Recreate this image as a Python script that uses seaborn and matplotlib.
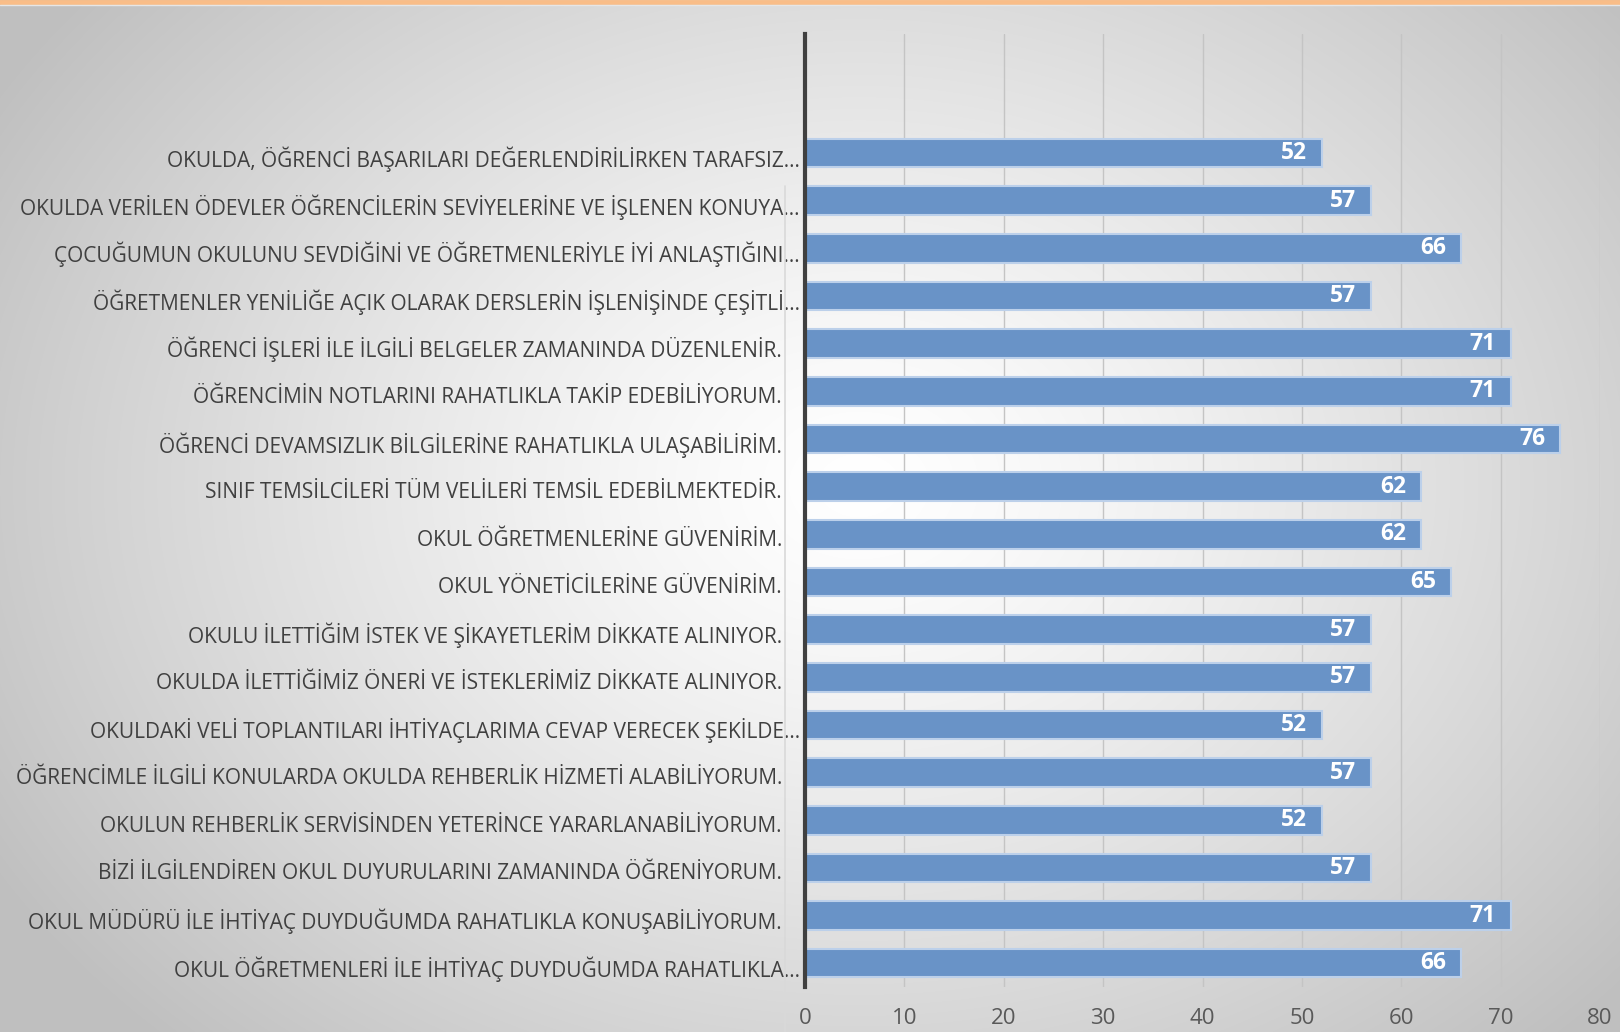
import numpy as np
import pandas as pd
import matplotlib
matplotlib.use("Agg")
import matplotlib.pyplot as plt
import seaborn as sns
from matplotlib.lines import Line2D
from matplotlib.transforms import blended_transform_factory, offset_copy

labels = [
    "OKULDA, ÖĞRENCİ BAŞARILARI DEĞERLENDİRİLİRKEN TARAFSIZ…",
    "OKULDA VERİLEN ÖDEVLER ÖĞRENCİLERİN SEVİYELERİNE VE İŞLENEN KONUYA…",
    "ÇOCUĞUMUN OKULUNU SEVDİĞİNİ VE ÖĞRETMENLERİYLE İYİ ANLAŞTIĞINI…",
    "ÖĞRETMENLER YENİLİĞE AÇIK OLARAK DERSLERİN İŞLENİŞİNDE ÇEŞİTLİ…",
    "ÖĞRENCİ İŞLERİ İLE İLGİLİ BELGELER ZAMANINDA DÜZENLENİR.",
    "ÖĞRENCİMİN NOTLARINI RAHATLIKLA TAKİP EDEBİLİYORUM.",
    "ÖĞRENCİ DEVAMSIZLIK BİLGİLERİNE RAHATLIKLA ULAŞABİLİRİM.",
    "SINIF TEMSİLCİLERİ TÜM VELİLERİ TEMSİL EDEBİLMEKTEDİR.",
    "OKUL ÖĞRETMENLERİNE GÜVENİRİM.",
    "OKUL YÖNETİCİLERİNE GÜVENİRİM.",
    "OKULU İLETTİĞİM İSTEK VE ŞİKAYETLERİM DİKKATE ALINIYOR.",
    "OKULDA İLETTİĞİMİZ ÖNERİ VE İSTEKLERİMİZ DİKKATE ALINIYOR.",
    "OKULDAKİ VELİ TOPLANTILARI İHTİYAÇLARIMA CEVAP VERECEK ŞEKİLDE…",
    "ÖĞRENCİMLE İLGİLİ KONULARDA OKULDA REHBERLİK HİZMETİ ALABİLİYORUM.",
    "OKULUN REHBERLİK SERVİSİNDEN YETERİNCE YARARLANABİLİYORUM.",
    "BİZİ İLGİLENDİREN OKUL DUYURULARINI ZAMANINDA ÖĞRENİYORUM.",
    "OKUL MÜDÜRÜ İLE İHTİYAÇ DUYDUĞUMDA RAHATLIKLA KONUŞABİLİYORUM.",
    "OKUL ÖĞRETMENLERİ İLE İHTİYAÇ DUYDUĞUMDA RAHATLIKLA…",
]
values = [52, 57, 66, 57, 71, 71, 76, 62, 62, 65, 57, 57, 52, 57, 52, 57, 71, 66]
x_ticks = [0, 10, 20, 30, 40, 50, 60, 70, 80]

df = pd.DataFrame({"label": labels, "value": values})

sns.set_theme(style="white")
plt.rcParams['font.family'] = ['Open Sans', 'DejaVu Sans']

fig = plt.figure(figsize=(16.2, 10.32), dpi=100)

# radial gradient background
bg = fig.add_axes([0, 0, 1, 1], zorder=-10)
W, H = 1620, 1032
yy, xx = np.mgrid[0:H, 0:W]
cx, cy = 0.53 * W, 0.47 * H
d = np.sqrt(((xx - cx) / (0.62 * W)) ** 2 + ((yy - cy) / (0.75 * H)) ** 2)
d = np.clip(d, 0, 1)
shade = 1.0 - 0.25 * d ** 1.3
img = np.dstack([shade, shade, shade])
bg.imshow(img, aspect="auto", extent=[0, 1, 0, 1], origin="upper")
bg.set_axis_off()

# orange top line
fig.add_artist(Line2D([0, 1], [0.9985, 0.9985], color="#f9bd88", lw=3.5, transform=fig.transFigure))
fig.add_artist(Line2D([0, 1], [0.995, 0.995], color="#e6e6e6", lw=1.0, transform=fig.transFigure))
# faint label border line
fig.add_artist(Line2D([785 / W, 785 / W], [1 - 186 / H, 0.0], color="#d9d9d9", lw=1.2, transform=fig.transFigure))

ax = fig.add_axes([805 / W, 1 - 987 / H, (1600 - 805) / W, (987 - 34) / H])
ax.patch.set_alpha(0)

sns.barplot(data=df, x="value", y="label", orient="h", color="#6993c7",
            width=0.6, edgecolor="#bcd0ea", linewidth=1.5, saturation=1, ax=ax, zorder=3)

ax.set_xlim(0, 80)
ax.set_ylim(len(labels) - 0.5, -2.5)
ax.set_xticks(x_ticks)
ax.set_xticklabels([str(t) for t in x_ticks], fontsize=16, color="#595959")
ax.tick_params(axis="x", length=0, pad=15)
ax.set_yticks([])
ax.set_xlabel("")
ax.set_ylabel("")
ax.grid(axis="x", color="#c4c4c4", lw=1.0, zorder=0)
ax.set_axisbelow(True)
for s in ["top", "right", "bottom"]:
    ax.spines[s].set_visible(False)
ax.spines["left"].set_color("#404040")
ax.spines["left"].set_linewidth(3)
ax.spines["left"].set_zorder(5)

trans = blended_transform_factory(ax.transAxes, ax.transData)
for i, lab in enumerate(labels):
    if lab.endswith("…"):
        t = offset_copy(trans, fig=fig, x=-5, y=-6, units="dots")
    else:
        t = offset_copy(trans, fig=fig, x=-23, y=-6, units="dots")
    ax.text(0, i, lab, transform=t, ha="right", va="center",
            fontsize=15, color="#404040")

for i, v in enumerate(values):
    ax.text(v, i, str(v), transform=offset_copy(ax.transData, fig=fig, x=-15, y=0, units="dots"),
            ha="right", va="center", fontsize=16.5, fontweight="bold", color="white",
            zorder=6)

fig.savefig("out.png", dpi=100)
